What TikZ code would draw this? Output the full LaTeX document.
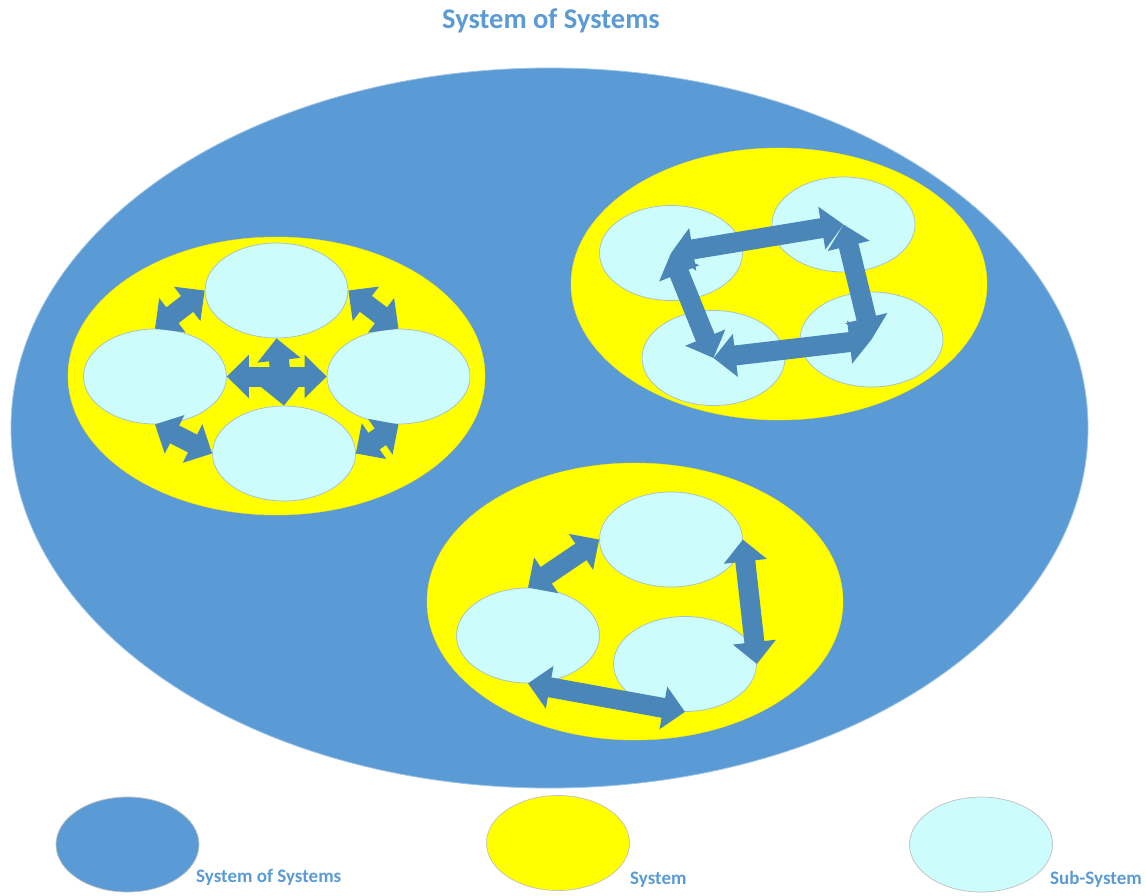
\documentclass[tikz,border=0pt]{standalone}
\usepackage{fontspec}
\setmainfont{Carlito}
\usetikzlibrary{shapes.geometric,arrows.meta}
\definecolor{sosblue}{HTML}{5B9BD5}
\definecolor{sysyellow}{HTML}{FFFF00}
\definecolor{subcyan}{HTML}{CCFCFC}
\definecolor{arrowblue}{HTML}{4A86B8}
\definecolor{subborder}{HTML}{A8BCCC}
\definecolor{legborder}{HTML}{C0C0C0}
\tikzset{
  ell/.style={ellipse, inner sep=0pt},
  sosell/.style={ell, fill=sosblue, draw=sosblue!60, line width=0.8pt},
  sysell/.style={ell, fill=sysyellow, draw=sysyellow!80!orange, line width=0.4pt},
  subsys/.style={ell, fill=subcyan, draw=subborder, line width=0.7pt, minimum width=143pt, minimum height=95pt},
  legell/.style={ell, draw=legborder, line width=0.7pt, minimum width=143pt, minimum height=95pt},
  blockarrow/.style={draw=arrowblue, line width=20pt,
    {Triangle[width=42pt,length=22pt]}-{Triangle[width=42pt,length=22pt]}},
  lbl/.style={text=sosblue, font=\bfseries\fontsize{19}{23}\selectfont, inner sep=0pt}
}
\begin{document}
\begin{tikzpicture}[x=1pt,y=-1pt]
\useasboundingbox (0,0) rectangle (1146,895);
\fill[white] (0,0) rectangle (1146,895);

% title
\node[text=sosblue, font=\bfseries\fontsize{28.5}{34}\selectfont, inner sep=0pt, anchor=base] (title) at (551,28) {System of Systems};

% system of systems
\node[sosell, minimum width=1077pt, minimum height=720pt] (sos) at (549.5,428) {};

% systems
\node[sysell, minimum width=417pt, minimum height=278pt] (sysL) at (276.5,376) {};
\node[sysell, minimum width=416pt, minimum height=272pt] (sysR) at (779,284) {};
\node[sysell, minimum width=416pt, minimum height=277pt] (sysB) at (635,601.5) {};

% left system subsystems
\node[subsys] (lt) at (276.5,290.5) {};
\node[subsys] (ll) at (155,376.5) {};
\node[subsys] (lr) at (398.5,376.5) {};
\node[subsys] (lb) at (284,453.5) {};

% right system subsystems
\node[subsys] (rtl) at (671,253) {};
\node[subsys] (rtr) at (843.5,224.5) {};
\node[subsys] (rbl) at (713.5,358) {};
\node[subsys] (rbr) at (871.5,339.5) {};

% bottom system subsystems
\node[subsys] (bt) at (671,539.5) {};
\node[subsys] (bl) at (528,635.5) {};
\node[subsys] (br) at (685,664) {};

% arrows left system
\draw[blockarrow] (ll.north) -- (lt.west);
\draw[blockarrow] (lt.east) -- (lr.north);
\draw[blockarrow] (ll.south) -- (lb.west);
\draw[blockarrow] (lb.east) -- (lr.south);
\draw[blockarrow] (ll.east) -- (lr.west);
\draw[blockarrow] (lt.south) -- (lb.north);

% arrows right system
\draw[blockarrow] (rtl.center) -- (rtr.center);
\draw[blockarrow] (rtr.center) -- (rbr.center);
\draw[blockarrow] (rbr.center) -- (rbl.center);
\draw[blockarrow] (rbl.center) -- (rtl.center);

% arrows bottom system
\draw[blockarrow] (bt.west) -- (bl.north);
\draw[blockarrow] (bt.east) -- (br.east);
\draw[blockarrow] (bl.south) -- (br.south);

% legend
\node[legell, fill=sosblue] (legA) at (127.5,844.5) {};
\node[legell, fill=sysyellow] (legB) at (558,843) {};
\node[legell, fill=subcyan] (legC) at (981,844.5) {};
\node[lbl, anchor=base west] (labA) at (196,882) {System of Systems};
\node[lbl, anchor=base west] (labB) at (630,884) {System};
\node[lbl, anchor=base west] (labC) at (1050,884) {Sub-System};
\end{tikzpicture}
\end{document}
